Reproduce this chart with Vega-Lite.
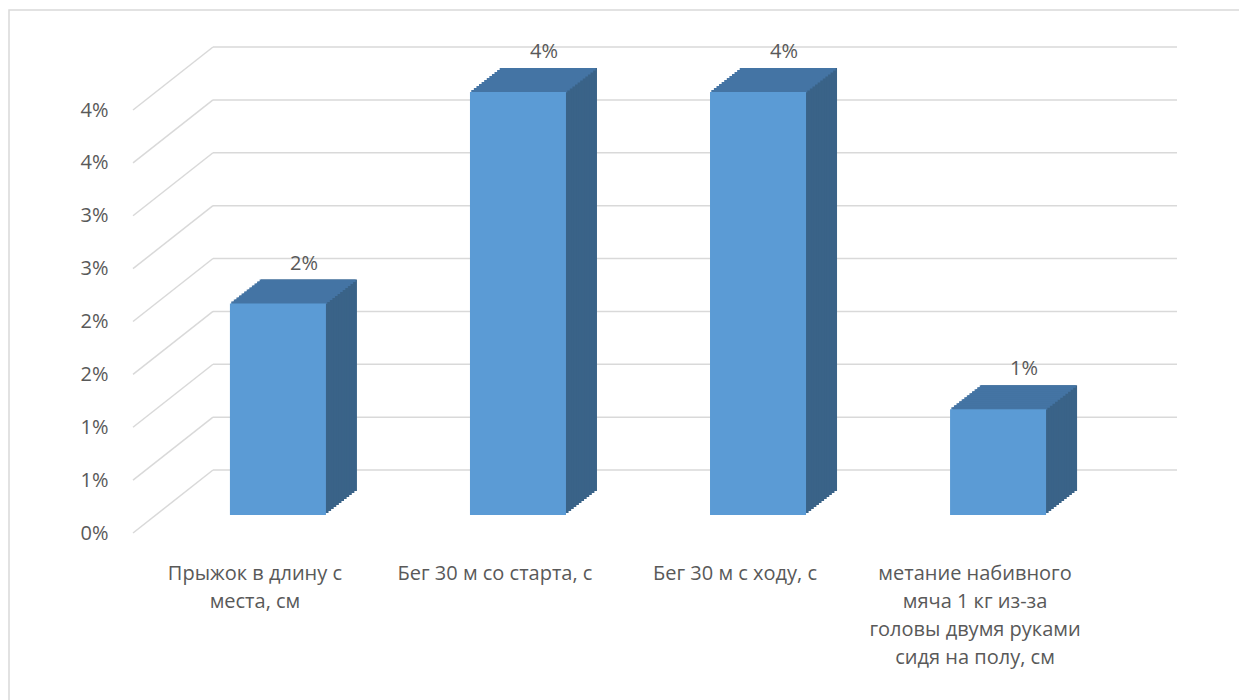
{
"$schema": "https://vega.github.io/schema/vega-lite/v6.json",
"width": 1230, "height": 690,
"autosize": {"type": "none"},
"padding": {"left": 9, "top": 10, "right": 0, "bottom": 0},
"background": "white",
"config": {"view": {"stroke": "#d9d9d9", "strokeWidth": 1.5, "strokeDash": [1230, 1920, 690]}, "font": "Open Sans"},
"datasets": {
"bars": [
{"name": "Прыжок в длину с места, см", "v": 0.02},
{"name": "Бег 30 м со старта, с", "v": 0.04},
{"name": "Бег 30 м с ходу, с", "v": 0.04},
{"name": "метание набивного мяча 1 кг из-за головы двумя руками сидя на полу, см", "v": 0.01}
],
"ticks": [{"v": 0}, {"v": 0.005}, {"v": 0.01}, {"v": 0.015}, {"v": 0.02}, {"v": 0.025}, {"v": 0.03}, {"v": 0.035}, {"v": 0.04}]
},
"data": {"name": "bars"},
"encoding": {
 "x": {"field": "name", "type": "nominal", "sort": null, "scale": {"range": [124, 1088], "paddingInner": 0.6, "paddingOuter": 0.308},
   "axis": {"orient": "bottom", "offset": -167, "domain": false, "ticks": false, "grid": false, "labelPadding": 30, "labelAngle": 0, "labelFontSize": 20, "labelLineHeight": 28, "labelLimit": 0, "labelOverlap": false, "labelColor": "#595959", "labelFont": "Open Sans", "title": null,
     "labelExpr": "datum.value == 'Прыжок в длину с места, см' ? ['Прыжок в длину с', 'места, см'] : datum.value == 'метание набивного мяча 1 кг из-за головы двумя руками сидя на полу, см' ? ['метание набивного', 'мяча 1 кг из-за', 'головы двумя руками', 'сидя на полу, см'] : datum.value"}},
 "y": {"field": "v", "type": "quantitative", "scale": {"domain": [0, 0.04], "range": [523, 100]},
   "axis": {"values": [0, 0.005, 0.01, 0.015, 0.02, 0.025, 0.03, 0.035, 0.04], "labelExpr": "round(datum.value*100+0.001)+'%'", "grid": false, "domain": false, "ticks": false, "offset": -101, "labelPadding": 2, "labelFontSize": 20, "labelColor": "#595959", "labelFont": "Open Sans", "title": null}}
},
"layer": [
{"data": {"name": "ticks"}, "mark": {"type": "rule", "color": "#d9d9d9", "strokeWidth": 1.5, "xOffset": 204, "x2Offset": 1168, "yOffset": -63, "y2Offset": -63},
 "encoding": {"x": {"value": 0}, "x2": {"value": 0}, "y2": {"field": "v"}}},
{"data": {"name": "ticks"}, "mark": {"type": "rule", "color": "#d9d9d9", "strokeWidth": 1.5, "xOffset": 124, "x2Offset": 204, "y2Offset": -63},
 "encoding": {"x": {"value": 0}, "x2": {"value": 0}, "y2": {"field": "v"}}},
{"mark": {"type": "bar", "color": "#3a6388", "xOffset": 54, "yOffset": -42, "y2Offset": -42}},
{"mark": {"type": "bar", "color": "#3a6388", "xOffset": 51.42, "yOffset": -40, "y2Offset": -40}},
{"mark": {"type": "bar", "color": "#3a6388", "xOffset": 48.83, "yOffset": -38, "y2Offset": -38}},
{"mark": {"type": "bar", "color": "#3a6388", "xOffset": 46.25, "yOffset": -36, "y2Offset": -36}},
{"mark": {"type": "bar", "color": "#3a6388", "xOffset": 43.67, "yOffset": -34, "y2Offset": -34}},
{"mark": {"type": "bar", "color": "#3a6388", "xOffset": 41.08, "yOffset": -32, "y2Offset": -32}},
{"mark": {"type": "bar", "color": "#3a6388", "xOffset": 38.5, "yOffset": -30, "y2Offset": -30}},
{"mark": {"type": "bar", "color": "#3a6388", "xOffset": 35.92, "yOffset": -28, "y2Offset": -28}},
{"mark": {"type": "bar", "color": "#3a6388", "xOffset": 33.33, "yOffset": -26, "y2Offset": -26}},
{"mark": {"type": "bar", "color": "#3a6388", "xOffset": 30.75, "yOffset": -24, "y2Offset": -24}},
{"mark": {"type": "bar", "color": "#3a6388", "xOffset": 28.17, "yOffset": -22, "y2Offset": -22}},
{"mark": {"type": "bar", "color": "#3a6388", "xOffset": 25.58, "yOffset": -20, "y2Offset": -20}},
{"mark": {"type": "bar", "color": "#4474a4", "xOffset": 52.71, "yOffset": -42, "y2Offset": -39.4}, "encoding": {"y2": {"field": "v"}}},
{"mark": {"type": "bar", "color": "#4474a4", "xOffset": 50.13, "yOffset": -40, "y2Offset": -37.4}, "encoding": {"y2": {"field": "v"}}},
{"mark": {"type": "bar", "color": "#4474a4", "xOffset": 47.54, "yOffset": -38, "y2Offset": -35.4}, "encoding": {"y2": {"field": "v"}}},
{"mark": {"type": "bar", "color": "#4474a4", "xOffset": 44.96, "yOffset": -36, "y2Offset": -33.4}, "encoding": {"y2": {"field": "v"}}},
{"mark": {"type": "bar", "color": "#4474a4", "xOffset": 42.38, "yOffset": -34, "y2Offset": -31.4}, "encoding": {"y2": {"field": "v"}}},
{"mark": {"type": "bar", "color": "#4474a4", "xOffset": 39.79, "yOffset": -32, "y2Offset": -29.4}, "encoding": {"y2": {"field": "v"}}},
{"mark": {"type": "bar", "color": "#4474a4", "xOffset": 37.21, "yOffset": -30, "y2Offset": -27.4}, "encoding": {"y2": {"field": "v"}}},
{"mark": {"type": "bar", "color": "#4474a4", "xOffset": 34.63, "yOffset": -28, "y2Offset": -25.4}, "encoding": {"y2": {"field": "v"}}},
{"mark": {"type": "bar", "color": "#4474a4", "xOffset": 32.04, "yOffset": -26, "y2Offset": -23.4}, "encoding": {"y2": {"field": "v"}}},
{"mark": {"type": "bar", "color": "#4474a4", "xOffset": 29.46, "yOffset": -24, "y2Offset": -21.4}, "encoding": {"y2": {"field": "v"}}},
{"mark": {"type": "bar", "color": "#4474a4", "xOffset": 26.88, "yOffset": -22, "y2Offset": -19.4}, "encoding": {"y2": {"field": "v"}}},
{"mark": {"type": "bar", "color": "#4474a4", "xOffset": 24.29, "yOffset": -20, "y2Offset": -17.4}, "encoding": {"y2": {"field": "v"}}},
{"mark": {"type": "bar", "color": "#5b9bd5", "xOffset": 23, "yOffset": -18, "y2Offset": -18}},
{"mark": {"type": "text", "fontSize": 20, "color": "#595959", "align": "center", "baseline": "alphabetic", "xOffset": 49, "yOffset": -52},
 "encoding": {"text": {"field": "v", "type": "quantitative", "format": ".0%"}}}
]
}
